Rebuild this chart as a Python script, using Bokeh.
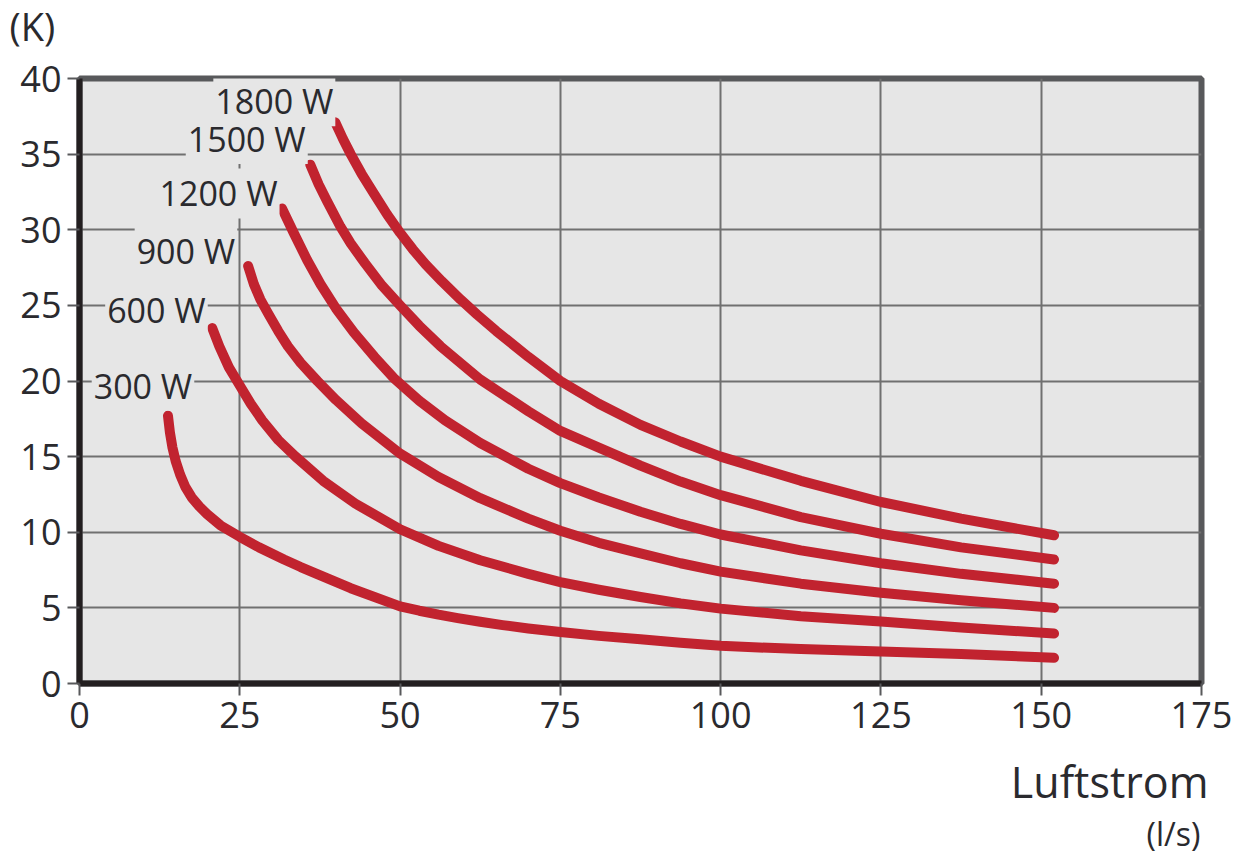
from bokeh.plotting import figure
from bokeh.models import Range1d, FixedTicker, Label, Title
from bokeh.embed import file_html
from bokeh.resources import INLINE

# ---- data ----
x_ticks = [0, 25, 50, 75, 100, 125, 150, 175]
y_ticks = [0, 5, 10, 15, 20, 25, 30, 35, 40]

series_names = ["300 W", "600 W", "900 W", "1200 W", "1500 W", "1800 W"]

q_300 = [13.8, 14.1, 14.5, 15.0, 15.7, 16.5, 17.5, 18.7, 19.9, 22, 25, 28, 31.9, 34.5, 37, 42.3, 50, 53, 56, 59, 62.5, 66, 70, 75, 81, 87.5, 93.75, 100, 106, 112.5, 125, 137.5, 152]
k_300 = [17.7, 16.6, 15.6, 14.7, 13.8, 13.0, 12.3, 11.7, 11.2, 10.45, 9.7, 9.0, 8.2, 7.7, 7.25, 6.3, 5.1, 4.81, 4.55, 4.32, 4.08, 3.86, 3.64, 3.40, 3.15, 2.92, 2.7, 2.5, 2.38, 2.28, 2.12, 1.95, 1.7]

q_600 = [20.7, 21.8, 23.3, 25, 26.7, 28.5, 31, 33.7, 38, 43, 50, 56, 62.5, 70, 75, 81, 87.5, 93.75, 100, 112.5, 125, 137.5, 152]
k_600 = [23.5, 22.3, 20.9, 19.7, 18.5, 17.4, 16.1, 15.0, 13.4, 11.9, 10.2, 9.1, 8.15, 7.25, 6.7, 6.2, 5.72, 5.3, 4.95, 4.45, 4.1, 3.7, 3.3]

q_900 = [26.3, 27.2, 28.2, 29.5, 31, 32.5, 34.5, 37.1, 40, 44, 50, 56, 62.5, 70, 75, 81, 87.5, 93.75, 100, 112.5, 125, 137.5, 152]
k_900 = [27.6, 26.4, 25.4, 24.4, 23.3, 22.3, 21.2, 20.0, 18.75, 17.2, 15.2, 13.65, 12.25, 10.9, 10.1, 9.3, 8.6, 7.95, 7.4, 6.6, 6.0, 5.5, 5.0]

q_1200 = [31.6, 33.4, 35.5, 37.6, 40, 42.8, 46, 49, 53, 57, 62.5, 70, 75, 81, 87.5, 93.75, 100, 112.5, 125, 137.5, 152]
k_1200 = [31.4, 29.8, 28.0, 26.4, 24.8, 23.2, 21.6, 20.2, 18.7, 17.4, 15.9, 14.2, 13.25, 12.3, 11.35, 10.55, 9.85, 8.8, 7.95, 7.25, 6.6]

q_1500 = [36.0, 37.3, 38.6, 40.7, 42.3, 44.5, 47.2, 50, 53, 56.3, 62.5, 70, 75, 81, 87.5, 93.75, 100, 112.5, 125, 137.5, 152]
k_1500 = [34.3, 33.0, 31.9, 30.2, 29.1, 27.8, 26.3, 25.0, 23.65, 22.3, 20.1, 18.0, 16.7, 15.6, 14.4, 13.35, 12.45, 11.0, 9.9, 9.0, 8.2]

q_1800 = [39.9, 41.1, 42.3, 44, 45.9, 48, 50, 52, 54, 56.5, 59.4, 62, 65, 70, 75, 81, 87.5, 93.75, 100, 112.5, 125, 137.5, 152]
k_1800 = [37.1, 36.0, 35.0, 33.7, 32.4, 31.0, 29.8, 28.7, 27.7, 26.6, 25.4, 24.4, 23.3, 21.6, 20.0, 18.5, 17.1, 16.0, 15.0, 13.4, 12.0, 10.9, 9.8]

# label anchor points (right edge / vertical middle of each curve label)
label_q = [17.9, 20.0, 24.6, 31.2, 35.6, 39.9]
label_k = [19.7, 24.7, 28.6, 32.4, 36.0, 38.5]

series_q = [q_300, q_600, q_900, q_1200, q_1500, q_1800]
series_k = [k_300, k_600, k_900, k_1200, k_1500, k_1800]

y_unit = "(K)"
x_title = "Luftstrom"
x_unit = "(l/s)"

# ---- styling ----
FONT = "Open Sans"
TEXT = "#2a2a2e"
RED = "#c1232f"
BG = "#e6e6e6"

p = figure(
    frame_width=1122, frame_height=605,
    min_border_left=79, min_border_top=78, min_border_right=40, min_border_bottom=173,
    x_range=Range1d(0, 175), y_range=Range1d(0, 40),
    output_backend="svg", toolbar_location=None, title_location=None,
)
p.background_fill_color = BG
p.border_fill_color = "white"
p.outline_line_color = "#58595b"
p.outline_line_width = 6

for ax, ticks in ((p.xaxis, x_ticks), (p.yaxis, y_ticks)):
    ax.ticker = FixedTicker(ticks=ticks)
    ax.minor_tick_line_color = None
    ax.axis_line_color = "#231f20"
    ax.axis_line_width = 6
    ax.major_tick_line_color = "#58595b"
    ax.major_tick_line_width = 2
    ax.major_tick_in = 0
    ax.major_tick_out = 12
    ax.major_label_text_font = FONT
    ax.major_label_text_font_size = "36px"
    ax.major_label_text_color = TEXT

p.yaxis.major_label_standoff = 6
p.xaxis.major_label_standoff = 6

p.grid.grid_line_color = "#707070"
p.grid.grid_line_width = 2
p.xgrid.ticker = FixedTicker(ticks=x_ticks)
p.ygrid.ticker = FixedTicker(ticks=y_ticks)

for qs, ks in zip(series_q, series_k):
    p.line(qs, ks, line_color=RED, line_width=10, line_cap="round", line_join="round")

for name, lq, lk in zip(series_names, label_q, label_k):
    p.add_layout(Label(
        x=lq, y=lk, text=name, text_align="right", text_baseline="middle",
        text_font=FONT, text_font_size="34px", text_color=TEXT,
        background_fill_color=BG, padding=2,
    ))

# unit of the y axis, above the frame (a blank spacer keeps it clear of the frame)
p.add_layout(Title(text=" ", text_font_size="10px", standoff=20), "above")
p.add_layout(Title(text=y_unit, align="left", offset=-70, standoff=-12,
                   text_font=FONT, text_font_size="38px", text_font_style="normal",
                   text_color=TEXT), "above")

# x axis title (two lines), right-aligned below the axis
p.add_layout(Title(text=x_title, align="right", offset=-7, standoff=39,
                   text_font=FONT, text_font_size="43px", text_font_style="normal",
                   text_color=TEXT), "below")
p.add_layout(Title(text=x_unit, align="right", offset=1, standoff=-41,
                   text_font=FONT, text_font_size="32px", text_font_style="normal",
                   text_color=TEXT), "below")

open("out.html", "w").write(file_html(p, INLINE))
